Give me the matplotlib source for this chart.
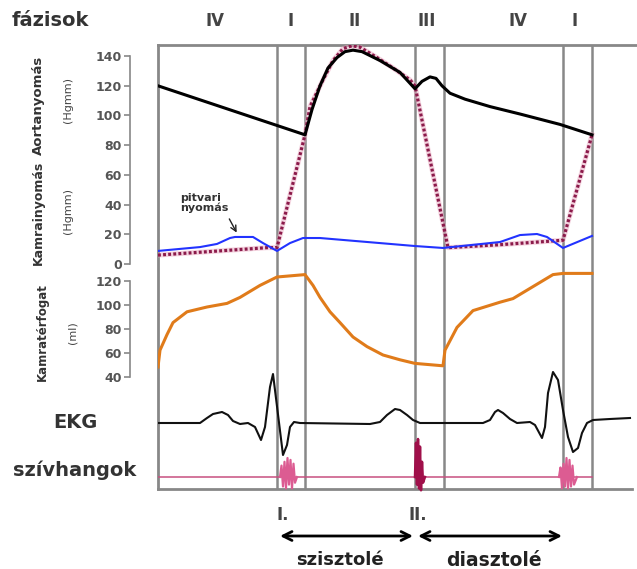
import numpy as np
import matplotlib
matplotlib.use('Agg')
import matplotlib.pyplot as plt
from matplotlib.transforms import blended_transform_factory

W, H = 637, 569

# esemenyek (ms): billentyuk nyitasa / zarasa
events = [238, 294, 514, 572, 810, 868]
phase_labels = ['IV', 'I', 'II', 'III', 'IV', 'I']
phase_t = [114, 266, 394, 538, 720, 834]

# aorta nyomas (Hgmm)
aorta_t = [0, 294, 308, 324, 340, 358, 374, 390, 408, 444, 484, 514, 528, 544, 556, 568, 584, 614, 664, 724, 804, 868]
aorta_p = [120, 87, 104, 120, 132, 139, 143, 144, 143, 137, 129, 118, 123, 126, 125, 120, 115, 111, 106, 101, 94, 87]

# kamrai nyomas (Hgmm)
vent_t = [0, 218, 238, 294, 304, 330, 350, 370, 388, 404, 438, 470, 504, 514, 580, 684, 810, 868]
vent_p = [6, 11, 11, 87, 106, 124, 137, 145, 147, 146, 139, 132, 124, 120, 11, 13, 16, 87]

# pitvari nyomas (Hgmm)
atrial_t = [0, 84, 118, 144, 154, 170, 190, 210, 238, 264, 290, 324, 514, 570, 684, 724, 758, 778, 810, 868]
atrial_p = [8.8, 11.4, 13.5, 17.5, 18.2, 18.2, 18.2, 14.1, 8.8, 14.1, 17.5, 17.5, 12.1, 10.8, 14.8, 19.5, 20.2, 18.2, 10.8, 18.9]

# kamraterfogat (ml)
vol_t = [0, 4, 18, 30, 58, 98, 138, 164, 204, 238, 294, 310, 324, 344, 364, 390, 418, 450, 484, 514,
         570, 574, 598, 630, 684, 710, 750, 790, 810, 868]
vol_v = [48, 62, 75, 85, 94, 98, 101, 106, 116, 123, 125, 116, 106, 94, 85, 73, 65, 58, 54, 51,
         49, 62, 81, 95, 102, 105, 115, 125, 126, 126]

# EKG (mV)
ekg_t = [0, 84, 98, 110, 128, 140, 150, 164, 180, 194, 206, 214, 224, 230, 250, 258, 264, 272, 284,
         424, 444, 458, 474, 484, 498, 510, 524,
         650, 664, 674, 680, 690, 704, 718,
         744, 754, 768, 774, 780, 790, 800, 810, 820, 830, 840, 848, 858, 870, 904, 944]
ekg_v = [0, 0, 0.1, 0.18, 0.22, 0.16, 0.04, -0.02, 0, -0.08, -0.34, -0.08, 0.72, 0.98, -0.64, -0.44, -0.08, 0.02, 0,
         -0.02, 0.02, 0.16, 0.28, 0.26, 0.16, 0.06, 0,
         0, 0.06, 0.22, 0.26, 0.2, 0.08, 0,
         0.02, -0.04, -0.3, -0.08, 0.6, 1.02, 0.86, 0.26, -0.28, -0.58, -0.5, -0.2, 0, 0.06, 0.08, 0.1]

# szivhangok
s1_t = [244, 247, 250, 253, 256, 259, 262, 265, 268, 271, 274, 278]
s1_a = [0, 0.6, -0.5, 0.8, -0.6, 1.0, -0.4, 0.9, -0.6, 0.7, -0.3, 0]
s2_t = [514, 516, 518, 520, 522, 524, 526, 528, 530, 534]
s2_a = [0, 1.8, -0.4, 2.0, -0.6, 1.6, -0.7, 0.8, -0.3, 0]
s1b_t = [802, 805, 808, 811, 814, 817, 820, 823, 826, 829, 832, 838]
s1b_a = [0, 0.5, -0.6, 0.7, -0.5, 1.0, -0.6, 0.9, -0.5, 0.6, -0.4, 0]

p_ticks = [0, 20, 40, 60, 80, 100, 120, 140]
v_ticks = [40, 60, 80, 100, 120]

GRAY = '#888888'
TXT = '#333333'


def px_rect(x0, y0, x1, y1):
    return [x0 / W, 1 - y1 / H, (x1 - x0) / W, (y1 - y0) / H]


def lim(y_top, y_bot, y0, scale):
    # pixel -> adat ertek
    return ((y0 - y_bot) / scale, (y0 - y_top) / scale)


def ftext(x, y, s, **kw):
    fig.text(x / W, 1 - y / H, s, **kw)


def clean(ax):
    ax.set_facecolor('none')
    ax.set_xlim(0, 958)
    ax.set_xticks([])
    for s in ax.spines.values():
        s.set_visible(False)


fig = plt.figure(figsize=(W / 100, H / 100), dpi=100)

# keret + fazishatarok
ax_bg = fig.add_axes(px_rect(158, 45, 637, 489))
clean(ax_bg)
ax_bg.set_ylim(0, 1)
ax_bg.set_yticks([])
for side in ['top', 'left', 'bottom']:
    ax_bg.spines[side].set_visible(True)
    ax_bg.spines[side].set_color(GRAY)
    ax_bg.spines[side].set_linewidth(2)
ax_bg.spines['bottom'].set_bounds(0, 948)
for t in events:
    ax_bg.axvline(t, color=GRAY, lw=1.8, zorder=1)

# nyomasok
ax_p = fig.add_axes(px_rect(158, 45, 637, 268))
clean(ax_p)
ax_p.set_ylim(*lim(45, 268, 264, 1.485))
ax_p.plot(vent_t, vent_p, color='#e9a6bf', lw=3.6, alpha=0.5, zorder=2)
ax_p.plot(vent_t, vent_p, color='#8b1a4a', lw=2.3, linestyle=(0, (0.9, 0.7)), zorder=3)
ax_p.plot(aorta_t, aorta_p, color='black', lw=2.2, zorder=4)
ax_p.plot(atrial_t, atrial_p, color='#2233ff', lw=1.5, zorder=4)

# kamraterfogat
ax_v = fig.add_axes(px_rect(158, 268, 637, 380))
clean(ax_v)
ax_v.set_ylim(80 - (380 - 328.6) / 1.2, 80 + (328.6 - 268) / 1.2)
ax_v.plot(vol_t, vol_v, color='#e07b1a', lw=2.2, zorder=4)

for ax, ticks in [(ax_p, p_ticks), (ax_v, v_ticks)]:
    sp = ax.spines['left']
    sp.set_visible(True)
    sp.set_position(('axes', -28 / 479))
    sp.set_bounds(ticks[0], ticks[-1])
    sp.set_color(GRAY)
    sp.set_linewidth(1.2)
    ax.set_yticks(ticks)
    ax.tick_params(axis='y', direction='out', length=4, width=1.2, color=GRAY,
                   labelsize=9, labelcolor='#555555', pad=2)
    for lb in ax.get_yticklabels():
        lb.set_fontweight('bold')

# EKG
ax_e = fig.add_axes(px_rect(158, 360, 637, 470))
clean(ax_e)
ax_e.set_yticks([])
ax_e.set_ylim(*lim(360, 470, 423, 50))
ax_e.plot(ekg_t, ekg_v, color='#111111', lw=1.5, zorder=4)

# szivhangok
ax_s = fig.add_axes(px_rect(158, 430, 637, 495))
clean(ax_s)
ax_s.set_yticks([])
ax_s.set_ylim(*lim(430, 495, 477, 19))
ax_s.plot([0, 868], [0, 0], color='#c85080', lw=1.1, zorder=3)
ax_s.plot(s1_t, s1_a, color='#dc5c92', lw=1.6, zorder=4)
ax_s.plot(s2_t, s2_a, color='#a0104a', lw=1.8, zorder=4)
ax_s.plot(s1b_t, s1b_a, color='#dc5c92', lw=1.6, zorder=4)

# fazisok
ftext(12, 21, 'fázisok', fontsize=14, fontweight='bold', color=TXT, va='center')
tr_top = blended_transform_factory(ax_bg.transData, fig.transFigure)
for t, lab in zip(phase_t, phase_labels):
    ax_bg.text(t, 1 - 21 / H, lab, transform=tr_top, ha='center', va='center',
               fontsize=12, fontweight='bold', color='#444444')

# tengely feliratok
ftext(38, 105, 'Aortanyomás', rotation=90, fontsize=9.5, fontweight='bold', color=TXT, ha='center', va='center')
ftext(68, 100, '(Hgmm)', rotation=90, fontsize=8, color='#444444', ha='center', va='center')
ftext(38, 213, 'Kamrainyomás', rotation=90, fontsize=9, fontweight='bold', color=TXT, ha='center', va='center')
ftext(68, 211, '(Hgmm)', rotation=90, fontsize=8, color='#444444', ha='center', va='center')
ftext(42, 332, 'Kamratérfogat', rotation=90, fontsize=8.5, fontweight='bold', color=TXT, ha='center', va='center')
ftext(73, 333, '(ml)', rotation=90, fontsize=8, color='#444444', ha='center', va='center')
ftext(53, 423, 'EKG', fontsize=14, fontweight='bold', color=TXT, va='center')
ftext(13, 470, 'szívhangok', fontsize=14, fontweight='bold', color=TXT, va='center')

# pitvari nyomas felirat
ftext(180, 203, 'pitvari\nnyomás', fontsize=8, fontweight='bold', color=TXT, va='center', linespacing=1.0)
ax_p.annotate('', xy=(160, 19.5), xytext=(140, 32),
              arrowprops=dict(arrowstyle='->', color='#222222', lw=1))

# szivhang jelolok es nyilak
tr_bot = blended_transform_factory(ax_bg.transData, fig.transFigure)
ax_bg.text(250, 1 - 515 / H, 'I.', transform=tr_bot, ha='center', va='center',
           fontsize=12, fontweight='bold', color='#444444')
ax_bg.text(520, 1 - 515 / H, 'II.', transform=tr_bot, ha='center', va='center',
           fontsize=12, fontweight='bold', color='#444444')
for a, b in [(244, 510), (520, 808)]:
    ax_bg.annotate('', xy=(a, 1 - 536 / H), xytext=(b, 1 - 536 / H),
                   xycoords=tr_bot, textcoords=tr_bot, annotation_clip=False,
                   arrowprops=dict(arrowstyle='<->', color='black', lw=2,
                                   mutation_scale=16, shrinkA=0, shrinkB=0))
ax_bg.text(364, 1 - 560 / H, 'szisztolé', transform=tr_bot, ha='center', va='center',
           fontsize=13, fontweight='bold', color='#222222')
ax_bg.text(672, 1 - 560 / H, 'diasztolé', transform=tr_bot, ha='center', va='center',
           fontsize=13.5, fontweight='bold', color='#222222')

fig.savefig('out.png', dpi=100)
